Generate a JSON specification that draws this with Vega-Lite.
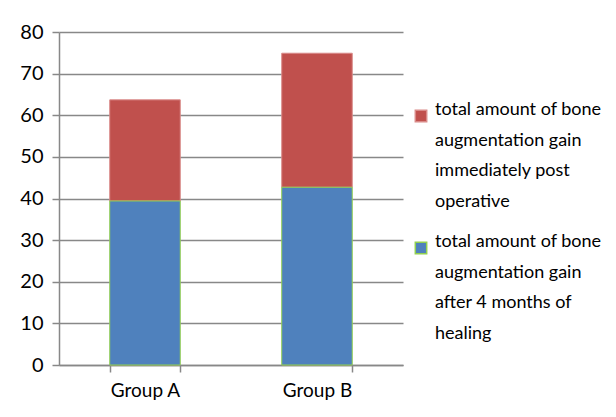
{
  "$schema": "https://vega.github.io/schema/vega-lite/v6.json",
  "width": 344,
  "height": 333,
  "autosize": {"type": "none"},
  "padding": {"left": 59, "top": 32, "right": 213, "bottom": 52},
  "background": "white",
  "config": {
    "font": "Lato",
    "view": {"stroke": null},
    "axis": {"labelFont": "Lato", "labelColor": "#000", "labelFontSize": 20, "domainColor": "#888", "tickColor": "#888", "gridColor": "#888", "gridWidth": 1.5, "domainWidth": 1.5, "tickWidth": 1.5}
  },
  "data": {
    "values": [
      {"group": "Group A", "series": "post", "layer": 2, "value": 24.3},
      {"group": "Group A", "series": "after", "layer": 1, "value": 39.4},
      {"group": "Group B", "series": "post", "layer": 2, "value": 32.2},
      {"group": "Group B", "series": "after", "layer": 1, "value": 42.7}
    ]
  },
  "mark": {"type": "bar", "strokeWidth": 1},
  "encoding": {
    "x": {
      "field": "group", "type": "nominal",
      "scale": {"paddingInner": 0.59, "paddingOuter": 0.295},
      "axis": {"title": null, "labelAngle": 0, "tickBand": "extent", "tickSize": 7, "labelPadding": 9, "labelFontSize": 19, "grid": false}
    },
    "y": {
      "field": "value", "type": "quantitative", "stack": "zero",
      "scale": {"domain": [0, 80], "nice": false},
      "axis": {"title": null, "values": [0,10,20,30,40,50,60,70,80], "tickSize": 7, "labelPadding": 9, "grid": true}
    },
    "order": {"field": "layer", "type": "quantitative"},
    "color": {
      "field": "series", "type": "nominal",
      "scale": {"domain": ["post", "after"], "range": ["#C0504D", "#4F81BD"]},
      "legend": {
        "title": null, "orient": "none", "legendX": 353, "legendY": 75,
        "symbolType": "square", "symbolSize": 130, "symbolStrokeWidth": 1.5,
        "labelFont": "Lato", "labelFontSize": 18, "labelColor": "#000", "labelLimit": 300,
        "labelExpr": "datum.value == 'post' ? ['total amount of bone','augmentation gain','immediately post','operative'] : ['total amount of bone','augmentation gain','after 4 months of','healing']",
        "labelBaseline": "top", "labelOffset": 5, "rowPadding": 22,
        "encode": {"labels": {"update": {"lineHeight": {"value": 30.5}, "dy": {"value": -15}}}}
      }
    },
    "stroke": {
      "field": "series", "type": "nominal",
      "scale": {"domain": ["post", "after"], "range": ["#D98A88", "#92D050"]},
      "legend": null
    }
  }
}
